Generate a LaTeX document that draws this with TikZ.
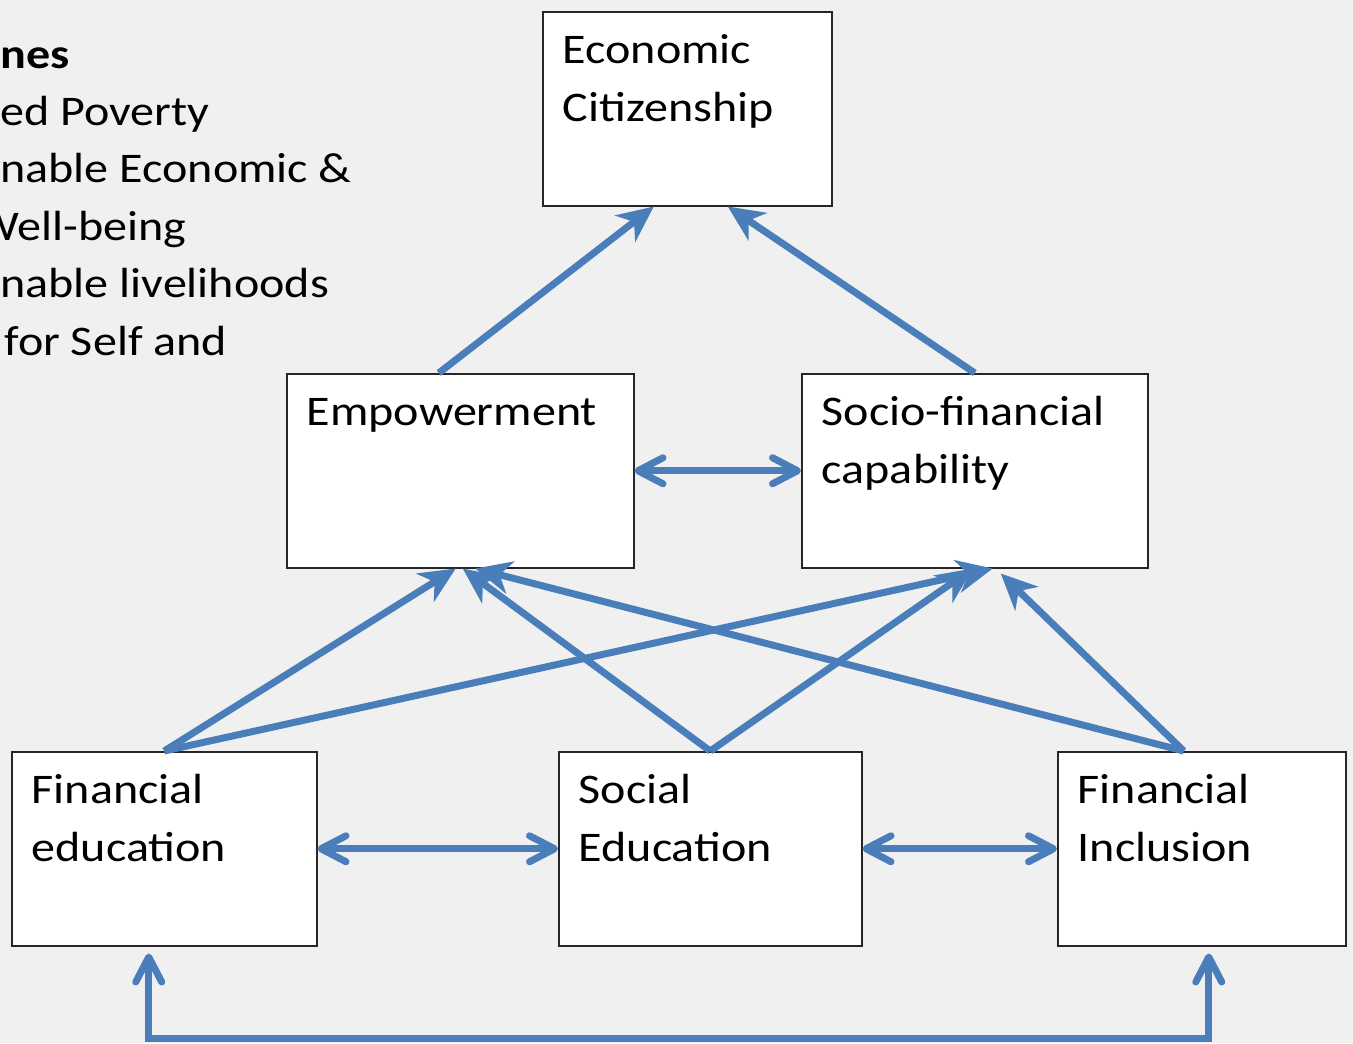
\documentclass[tikz,border=0pt]{standalone}
\usepackage{fontspec}
\setmainfont{Carlito}[FakeStretch=1.14]
\usetikzlibrary{arrows.meta}
\definecolor{bgray}{HTML}{F0F0F0}
\definecolor{lineblue}{HTML}{4A7EBB}
\newcommand{\diagfont}{\fontsize{24}{33}\selectfont}

\begin{document}
\begin{tikzpicture}[
    box/.style={draw=black!85,line width=.03cm,fill=white,anchor=north west,align=left,
        inner xsep=.4cm,inner ysep=.2cm,text height=.84cm,text depth=2.64cm,font=\diagfont},
    side/.style={anchor=base west,inner sep=0pt,font=\diagfont},
    arr/.style={-{Stealth[length=.72cm,width=.66cm,inset=.22cm]},line width=.14cm,lineblue},
    dbl/.style={{Straight Barb[length=.5cm,width=.52cm,round]}-{Straight Barb[length=.5cm,width=.52cm,round]},
        line width=.14cm,lineblue}
]
\useasboundingbox (0,0) rectangle (27.06,-20.86);
\fill[bgray] (0,0) rectangle (27.06,-20.86);

% outcomes list on the left
\foreach \txt/\dx [count=\i] in {{\textbf{nes}}/0,{ed Poverty}/0,{nable Economic \&}/0,
    {Well-being}/-.48,{nable livelihoods}/0,{for Self and}/.08}
  \node[side] (goal\i) at (\dx,{-1.36-1.148*(\i-1)}) {\txt};

\node[box,text width=4.98cm] (ec) at (10.84,-.22) {Economic\\Citizenship};
\node[box,text width=6.14cm] (emp) at (5.72,-7.46) {Empowerment};
\node[box,text width=6.12cm] (sfc) at (16.02,-7.46) {Socio-financial\\capability};
\node[box,text width=5.3cm] (fe) at (.22,-15.02) {Financial\\education};
\node[box,text width=5.26cm] (se) at (11.16,-15.02) {Social\\Education};
\node[box,text width=4.96cm] (fi) at (21.14,-15.02) {Financial\\Inclusion};

\draw[arr] ([xshift=-.43cm]emp.north) -- ([xshift=-.67cm]ec.south);
\draw[arr] (sfc.north) -- ([xshift=.81cm]ec.south);
\draw[dbl] (emp.east) -- (sfc.west);

\draw[arr] (fe.north) -- ([xshift=-.09cm]emp.south);
\draw[arr] (se.north) -- ([xshift=.05cm]emp.south);
\draw[arr] ([xshift=-.36cm]fi.north) -- ([xshift=.3cm]emp.south);
\draw[arr] (fe.north) -- ([xshift=.36cm]sfc.south);
\draw[arr] (se.north) -- ([xshift=-.04cm]sfc.south);
\draw[arr] ([xshift=-.36cm]fi.north) -- ([xshift=.52cm,yshift=-.1cm]sfc.south);

\draw[dbl] (fe.east) -- (se.west);
\draw[dbl] (se.east) -- (fi.west);
\draw[dbl,shorten <=.14cm,shorten >=.14cm] ([xshift=-.31cm]fe.south) -- ++(0,-1.84)
    -| ([xshift=.14cm]fi.south);
\end{tikzpicture}
\end{document}
